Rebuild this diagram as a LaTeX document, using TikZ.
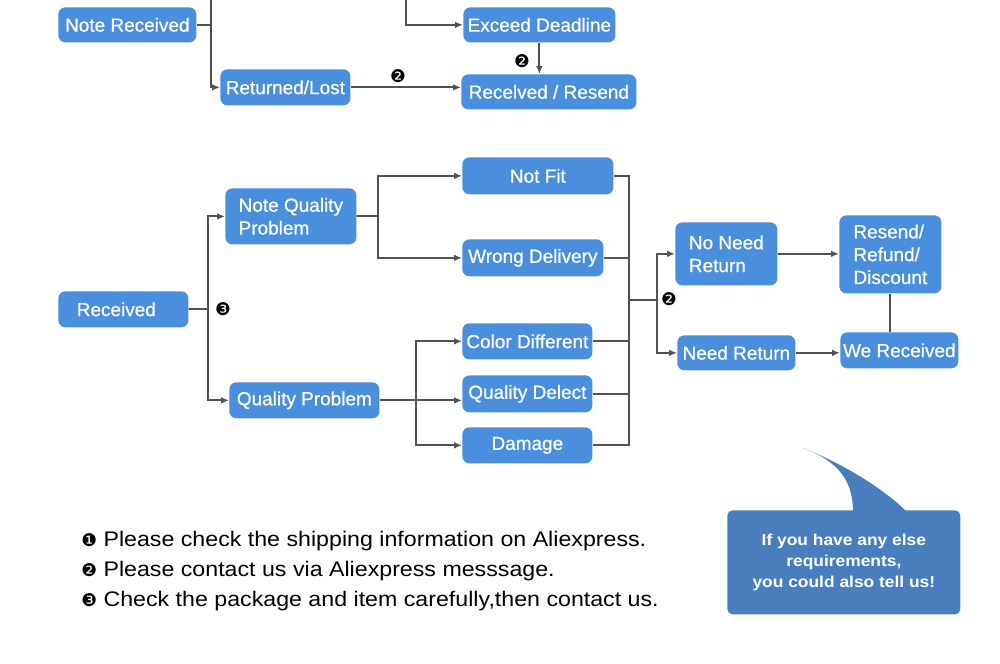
\documentclass[tikz,border=0pt]{standalone}
\usepackage{fontspec}
\setmainfont{Liberation Sans}
\newfontfamily\boxfont{Liberation Sans}[FakeBold=0.6]
\newfontfamily\widefont{Liberation Sans}[FakeStretch=1.1]
\newfontfamily\dingfont{DejaVu Sans}
\usepackage{tikz}
\usetikzlibrary{arrows.meta}
\definecolor{boxblue}{RGB}{74,143,221}
\definecolor{tipblue}{RGB}{73,126,190}
\definecolor{wire}{RGB}{82,82,82}
\newcommand{\lbl}[0]{\boxfont\fontsize{10.8}{13}\selectfont}
\newcommand{\PX}[0]{0.02cm}

\begin{document}
\begin{tikzpicture}[x=0.02cm, y=-0.02cm,
  box/.style={fill=boxblue, text=white, rounded corners=4pt, anchor=north west,
    inner xsep=1pt, inner ysep=2pt, font=\lbl, align=left},
  wire/.style={draw=wire, line width=1pt},
  arr/.style={wire, -{Latex[length=4.5pt,width=3.8pt]}},
  badge/.style={font=\dingfont\fontsize{10}{10}\selectfont, inner sep=0pt},
  foot/.style={anchor=base west, inner sep=0pt, font=\widefont\fontsize{12}{14}\selectfont},
  tip/.style={fill=tipblue, text=white, rounded corners=3pt, anchor=north west,
    align=center, font=\widefont\bfseries\fontsize{9}{12.2}\selectfont}]

  \fill[white] (0,0) rectangle (1000,663);
  \useasboundingbox (0,0) rectangle (1000,663);

  %% top part
  \node[box, minimum width=138*\PX, minimum height=35*\PX] (noterec) at (58,7) {Note Received};
  \node[box, minimum width=152*\PX, minimum height=35*\PX] (exceed) at (463,7) {Exceed Deadline};
  \node[box, minimum width=130*\PX, minimum height=36*\PX] (retlost) at (220,69) {Returned/Lost};
  \node[box, minimum width=175*\PX, minimum height=35*\PX] (recres) at (461,74) {Recelved / Resend};

  \coordinate (t1) at (211,0);
  \coordinate (t2) at (406,0);
  \draw[wire] (noterec) -- (noterec -| t1);
  \draw[arr] (t1) |- (retlost);
  \draw[arr] (t2) |- (exceed);
  \draw[arr] (exceed.south) -- (exceed.south |- recres.north);
  \draw[arr] (retlost) -- (retlost -| recres.west);

  \node[badge] (m1) at (398,76) {❷};
  \node[badge] (m2) at (522,61) {❷};

  %% received part
  \node[box, minimum width=130*\PX, minimum height=36*\PX] (received) at (58,291) {Received\hspace{8pt}};
  \node[box, minimum width=131*\PX, minimum height=56*\PX] (nqp) at (225,188) {Note Quality\hspace{10pt}\\Problem};
  \node[box, minimum width=150*\PX, minimum height=36*\PX] (qp) at (229,382) {Quality Problem};

  \node[box, minimum width=151*\PX, minimum height=37*\PX] (notfit) at (462,157) {Not Fit};
  \node[box, minimum width=141*\PX, minimum height=37*\PX] (wrong) at (462,239) {Wrong Delivery};
  \node[box, minimum width=130*\PX, minimum height=36*\PX] (colordiff) at (462,323) {Color Different};
  \node[box, minimum width=130*\PX, minimum height=37*\PX] (qdelect) at (462,375) {Quality Delect};
  \node[box, minimum width=130*\PX, minimum height=36*\PX] (damage) at (462,427) {Damage};

  \node[box, minimum width=102*\PX, minimum height=63*\PX] (nonr) at (675,222) {No Need\\Return};
  \node[box, minimum width=118*\PX, minimum height=35*\PX] (needr) at (677,335) {Need Return};
  \node[box, minimum width=102*\PX, minimum height=78*\PX] (resend) at (839,215) {Resend/\\Refund/\\Discount};
  \node[box, minimum width=118*\PX, minimum height=36*\PX] (werec) at (840,332) {We Received};

  \coordinate (j1) at (208,309);
  \coordinate (j2) at (378,216);
  \coordinate (j3) at (416,400);
  \coordinate (c1) at (629,300);
  \coordinate (j4) at (657,300);

  \draw[wire] (received) -- (j1);
  \draw[arr] (j1) |- (nqp);
  \draw[arr] (j1) |- (qp);

  \draw[wire] (nqp) -- (j2);
  \draw[arr] (j2) |- (notfit);
  \draw[arr] (j2) |- (wrong);

  \draw[arr] (qp) -- (qp -| qdelect.west);
  \draw[arr] (j3) |- (colordiff);
  \draw[arr] (j3) |- (damage);

  \draw[wire] (notfit) -| (c1);
  \draw[wire] (wrong) -| (c1);
  \draw[wire] (colordiff) -| (c1);
  \draw[wire] (qdelect) -| (c1);
  \draw[wire] (damage) -| (c1);

  \draw[wire] (c1) -- (j4);
  \draw[arr] (j4) |- (nonr);
  \draw[arr] (j4) |- (needr);
  \draw[arr] (nonr) -- (nonr -| resend.west);
  \draw[arr] (needr) -- (needr -| werec.west);
  \draw[wire] (resend.south) -- (resend.south |- werec.north);

  \node[badge] (m3) at (223,309) {❸};
  \node[badge] (m4) at (669,299) {❷};

  %% notes
  \node[foot] (n1) at (81,546.7) {{\dingfont\fontsize{10}{10}\selectfont ❶} Please check the shipping information on Aliexpress.};
  \node[foot] (n2) at (81,576.7) {{\dingfont\fontsize{10}{10}\selectfont ❷} Please contact us via Aliexpress messsage.};
  \node[foot] (n3) at (81,606.7) {{\dingfont\fontsize{10}{10}\selectfont ❸} Check the package and item carefully,then contact us.};

  %% speech bubble
  \node[tip, minimum width=233*\PX, minimum height=104*\PX] (ask) at (727,510)
    {If you have any else\\requirements,\\you could also tell us!};
  \coordinate (tail) at (803,448);
  \fill[tipblue] (853,512) .. controls (853,482) and (840,462) .. (tail)
    .. controls (846,465) and (885,490) .. (907,512) -- cycle;

\end{tikzpicture}
\end{document}
